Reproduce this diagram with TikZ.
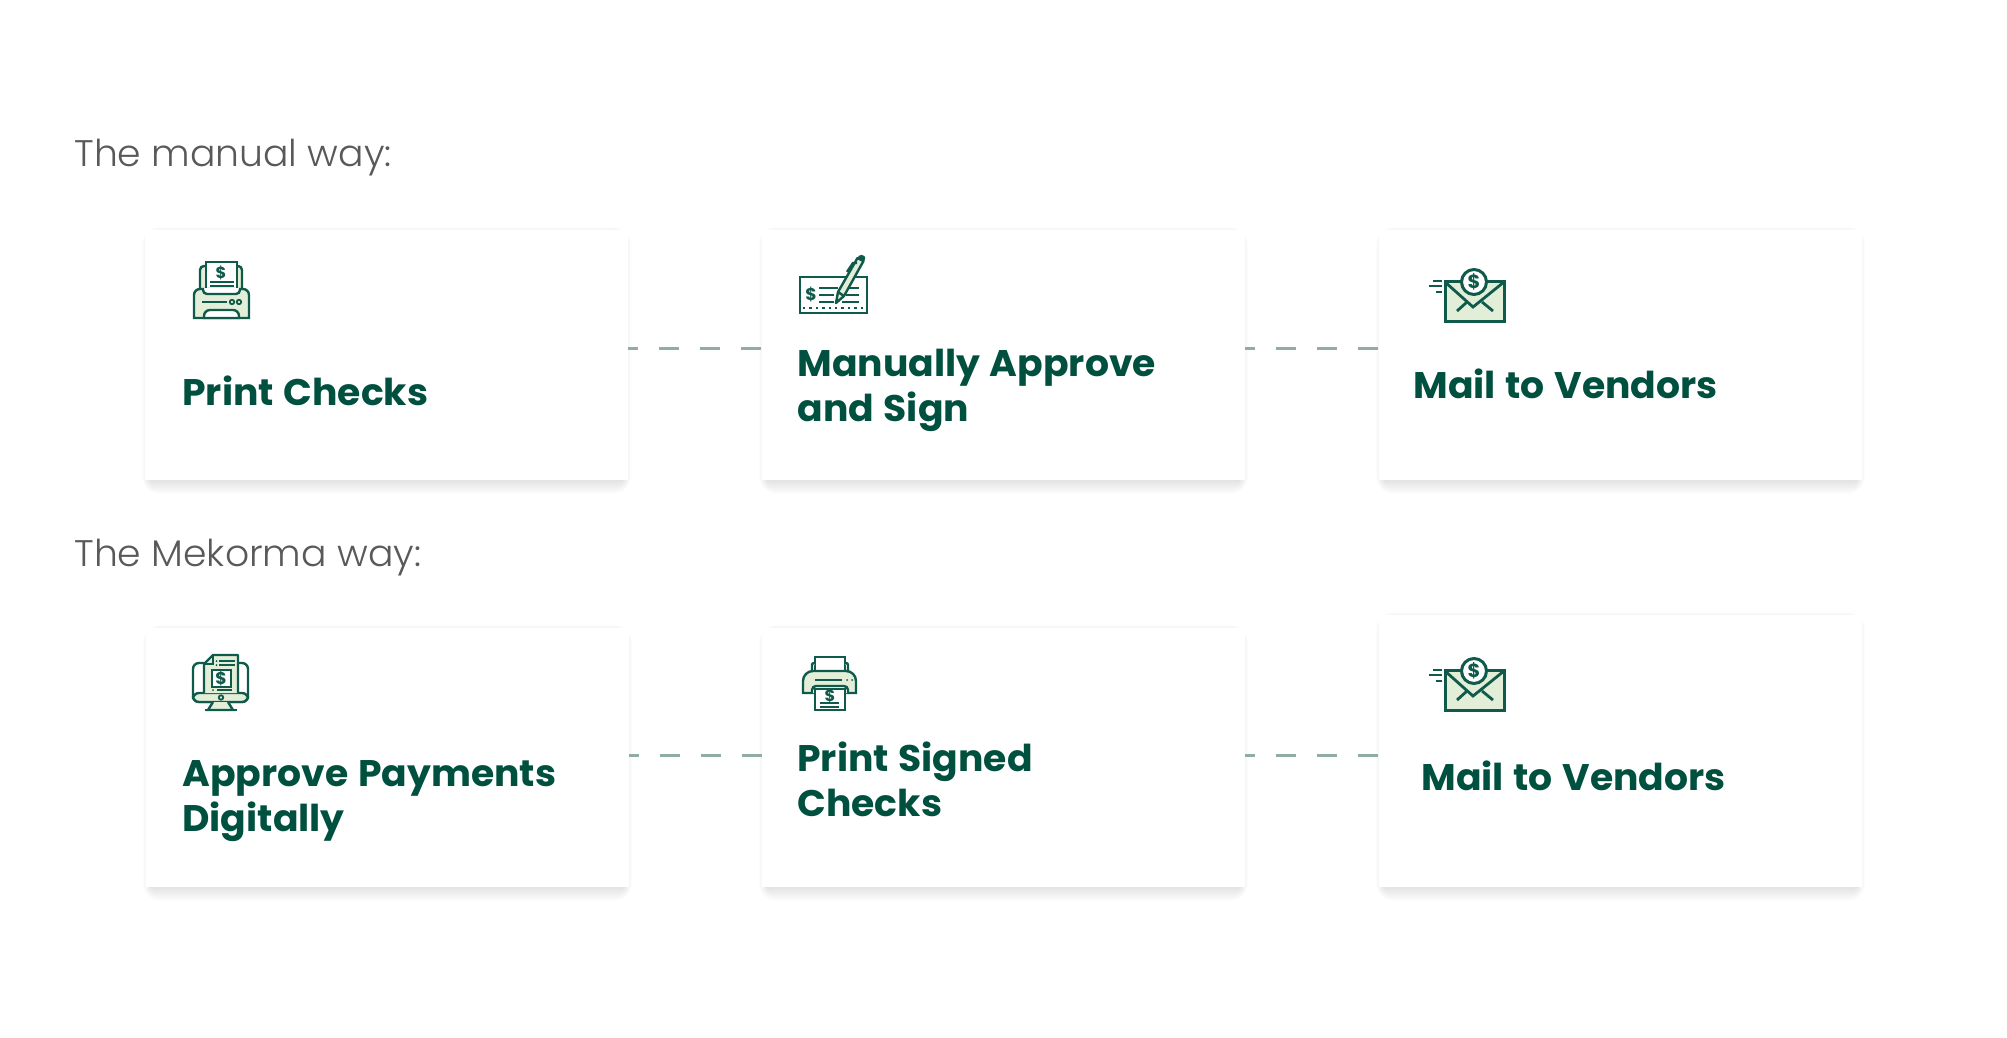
\documentclass[tikz,border=0pt]{standalone}
\usepackage{fontspec}
\setmainfont[BoldFeatures={FakeStretch=1.02,WordSpace=1.2}]{Poppins}
\newfontfamily\headfont[FakeStretch=1.02]{Poppins Light}
\usetikzlibrary{backgrounds}
\definecolor{dkgreen}{HTML}{00503F}
\definecolor{icongreen}{HTML}{0F5A4A}
\definecolor{palegreen}{HTML}{E3EED8}
\definecolor{dashgreen}{HTML}{8FADA5}
\definecolor{headgrey}{HTML}{58595B}
\tikzset{
  cardbox/.style={fill=white,inner sep=0pt,minimum width=241.5pt,minimum height=125pt},
  midbox/.style={cardbox,minimum height=129.5pt},
  tallbox/.style={cardbox,minimum height=136pt},
  cardtext/.style={font=\fontsize{18.5}{22.5}\selectfont\bfseries,text=dkgreen,anchor=base west,inner sep=0pt,align=left},
  headtext/.style={font=\headfont\fontsize{18.5}{22}\selectfont,text=headgrey,anchor=base west,inner sep=0pt},
  linkdash/.style={dashgreen,line width=1.5pt,dash pattern=on 10pt off 10.4pt,dash phase=5pt},
  iconline/.style={icongreen,line width=1.2pt},
  iconfill/.style={iconline,fill=palegreen},
  iconwhite/.style={iconline,fill=white},
  icondollar/.style={font=\fontsize{#1}{#1}\selectfont\bfseries,text=icongreen,inner sep=0pt},
}
% soft grey below a card
\newcommand{\cardshadow}[1]{
  \foreach \g in {1,...,9}{
    \fill[black,opacity=.011,rounded corners=\g pt]
      ([shift={(-\g*.5pt+3.2pt,-\g*.75pt)}]#1.south west) rectangle ([shift={(\g*.5pt-3.2pt,\g*.5pt-3.2pt)}]#1.north east);
  }
}
\newcommand{\mailicon}[2]{
\begin{scope}[shift={(#1)}]
  \draw[iconfill,line width=1.5pt] (-29,-1) rectangle (30,39);
  \draw[iconline,line width=1.4pt] (-29,0) -- (-1,25) -- (30,0);
  \draw[iconline,line width=1.4pt] (-17,29) -- (-7,20) (19,29) -- (8,20);
  \draw[iconwhite,line width=1.5pt] (0,0) circle (12.5);
  \node[icondollar=9.5] (#2) at (0,0) {\$};
  \draw[iconline] (-41,-1) -- (-32,-1) (-45,4) -- (-32,4) (-38,10) -- (-32,10);
\end{scope}
}
\begin{document}
\begin{tikzpicture}[x=.5pt,y=-.5pt]
\useasboundingbox (0,0) rectangle (2007,1038);

  \node[headtext] (manualhead) at (74,166) {The manual way:};
  \node[headtext] (mekormahead) at (74,566) {The Mekorma way:};

  \node[cardbox] (print) at (386.5,355) {};
  \node[cardbox] (approve) at (1003.5,355) {};
  \node[cardbox] (mail) at (1620.5,355) {};
  \node[midbox] (digital) at (387.5,757.5) {};
  \node[midbox] (signed) at (1003.5,757.5) {};
  \node[tallbox] (mailb) at (1620.5,751) {};

\begin{scope}[on background layer]
\foreach \card in {print,approve,mail,digital,signed,mailb}{
  \cardshadow{\card}
}
\end{scope}

\foreach \from/\to in {print/approve, approve/mail}
\draw [linkdash] ([yshift=3.5pt]\from.east) -- ([yshift=3.5pt]\to.west);
\foreach \from/\to in {digital/signed, signed/mailb}
\draw [linkdash] ([yshift=1.2pt]\from.east) -- ([yshift=1.2pt]\from.east -| \to.west);

  \node[cardtext] (printtxt) at (182,405) {Print Checks};
  \node[cardtext] (approvetxt) at (797,421.5) {Manually Approve\\and Sign};
  \node[cardtext] (mailtxt) at (1413,398) {Mail to Vendors};
  \node[cardtext] (digitaltxt) at (182,831) {Approve Payments\\Digitally};
  \node[cardtext] (signedtxt) at (797,816) {Print Signed\\Checks};
  \node[cardtext] (mailbtxt) at (1421,790) {Mail to Vendors};

% printer with check on top
  \draw[iconfill,rounded corners=2pt] (200,295) -- (200,266) -- (242,266) -- (242,295);
  \draw[iconwhite] (206,262) rectangle (237,292);
  \node[icondollar=8] (dollara) at (221,273) {\$};
  \draw[iconline,line width=.9pt] (210,282) -- (234,282) (210,286) -- (234,286);
  \draw[iconfill] (194,318) [rounded corners=3pt] -- (194,289) -- (249,289) [sharp corners] -- (249,318) -- cycle;
  \draw[iconwhite,rounded corners=2pt] (203,288) -- (203,294) -- (240,294) -- (240,288);
  \draw[iconline] (202,302) -- (227,302);
  \draw[iconline,line width=.9pt] (232,302) circle (2.2) (239,302) circle (2.2);
  \draw[iconwhite] (204,318) [rounded corners=3pt] -- (204,310) -- (239,310) [sharp corners] -- (239,318) -- cycle;

% check and pen
  \draw[iconline,line width=1.3pt] (800,277) rectangle (867,313);
  \node[icondollar=8.5] (dollarb) at (811,295) {\$};
  \draw[iconline] (819,288) -- (838,288) (849,288) -- (859,288);
  \draw[iconline] (819,295) -- (834,295) (846,295) -- (859,295);
  \draw[iconline] (819,302) -- (834,302) (842,302) -- (859,302);
  \draw[iconline,dotted,line width=1pt] (803,308) -- (864,308);
  \draw[iconfill,line join=round] (836,303) -- (838,292) -- (857.5,258) -- (863.5,261) -- (844,296) -- cycle;
  \draw[iconline] (838,292) -- (844,296);
  \draw[iconline] (847,272) -- (853,263) -- (857,263);
  \fill[icongreen,rounded corners=1pt] (857,259) -- (860,254) -- (866,257) -- (863.5,262) -- cycle;

  \mailicon{1474,282}{dollarc}

% monitor with document
  \draw[iconline,rounded corners=3pt] (204,663) -- (193,663) -- (193,702) -- (248,702) -- (248,663) -- (238,663);
  \draw[iconfill,rounded corners=3pt] (193,693) -- (193,702) -- (248,702) -- (248,693) -- cycle;
  \draw[iconfill,line join=round] (204,693) -- (204,664) -- (213,655) -- (238,655) -- (238,693);
  \draw[iconline] (204,664) -- (213,664) -- (213,655);
  \draw[iconline,line width=.9pt] (219,661) -- (235,661) (219,665) -- (235,665);
  \fill[icongreen] (216.5,661) circle (1) (216.5,665) circle (1);
  \draw[iconwhite] (212,670) rectangle (231,687);
  \node[icondollar=8.5] (dollard) at (221,678.5) {\$};
  \draw[iconline,line width=.9pt] (217,690) -- (232,690);
  \fill[icongreen] (213,690) circle (1);
  \draw[iconfill,line width=.9pt] (221,697.5) circle (2.2);
  \draw[iconfill] (213,702) -- (208,710) -- (233,710) -- (228,702);
  \draw[iconline] (205,710) -- (237,710);

% printer with check coming out
  \draw[iconwhite] (815,657) rectangle (845,671);
  \draw[iconwhite,rounded corners=1pt] (812,671) -- (812,663) -- (815,663) (845,663) -- (848,663) -- (848,671);
  \draw[iconfill] (803,693) [rounded corners=5pt] -- (803,671) -- (856,671) [sharp corners] -- (856,693) -- cycle;
  \draw[iconline] (815,680) -- (842,680);
  \fill[icongreen] (847,680) circle (1) (852,680) circle (1);
  \draw[iconwhite,rounded corners=2pt] (812,693) -- (812,686) -- (848,686) -- (848,693);
  \draw[iconwhite] (815,689) rectangle (845,710);
  \node[icondollar=8] (dollare) at (830,696) {\$};
  \draw[iconline,line width=.9pt] (820,703) -- (839,703) (820,707) -- (839,707);

  \mailicon{1474,671}{dollarf}

\end{tikzpicture}
\end{document}
